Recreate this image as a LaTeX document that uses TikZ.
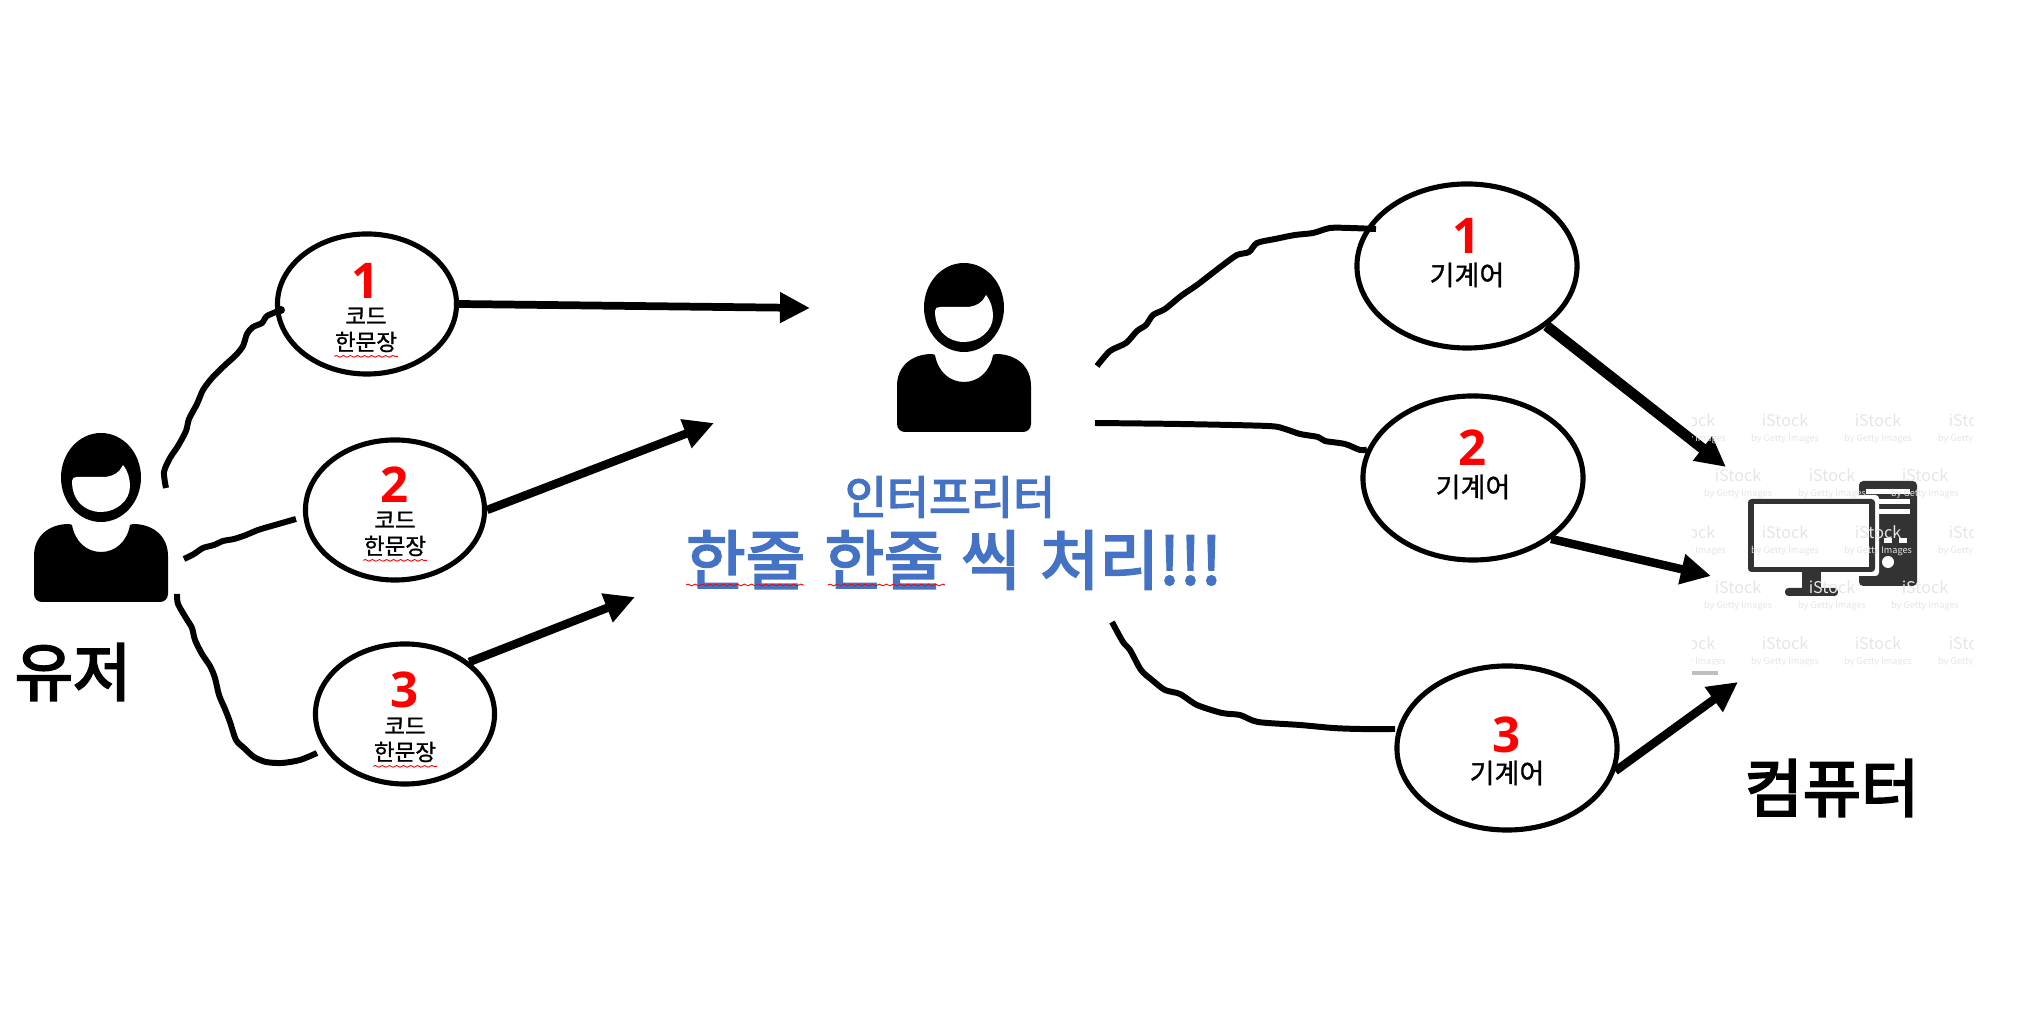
\documentclass[tikz,border=0pt]{standalone}
\usepackage{fontspec}
\setmainfont{Noto Sans CJK KR}
\newfontfamily\heavykr[FakeBold=3.2]{Noto Sans CJK KR}
\newfontfamily\midkr[FakeBold=1]{Noto Sans CJK KR}
\newfontfamily\digitfont{Open Sans}
\usetikzlibrary{arrows.meta,decorations.pathmorphing,shapes.geometric}

\definecolor{headblue}{HTML}{4472C4}
\definecolor{pcgray}{HTML}{333333}

\tikzset{
  bubble/.style={draw,ellipse,line width=1.45pt,minimum width=1.79cm,minimum height=1.4cm,inner sep=0pt},
  bigbubble/.style={bubble,minimum width=2.2cm,minimum height=1.64cm},
  numtext/.style={text=red,inner sep=0pt,font=\fontsize{14}{14}\selectfont\digitfont\bfseries},
  smalltext/.style={inner sep=0pt,font=\fontsize{6.4}{8}\selectfont\midkr},
  gearword/.style={inner sep=0pt,font=\fontsize{7.7}{9}\selectfont\midkr},
  bigword/.style={inner sep=0pt,font=\fontsize{18}{20}\selectfont\heavykr},
  blueword/.style={inner sep=0pt,text=headblue,font=\fontsize{13}{15}\selectfont\heavykr},
  blueline/.style={inner sep=0pt,text=headblue,font=\fontsize{18.4}{21}\selectfont\heavykr},
  squiggle/.style={red,line width=0.25pt,decorate,decoration={snake,amplitude=0.25pt,segment length=2pt}},
  shaky/.style={line width=1.7pt,smooth,tension=0.45},
  push/.style={line width=2.4pt,-{Triangle[length=0.3cm,width=0.29cm]}},
  stamp/.style={inner sep=0pt,align=center,text=black!10,font=\fontsize{4.6}{3.2}\selectfont},
  person/.pic={
    \fill (0,-124.5) ellipse [x radius=40,y radius=44.5];
    \fill[white] (-29,-121) .. controls (-29,-124) and (-27,-125) .. (-24,-125) -- (2,-125)
      .. controls (12,-125) and (19,-130) .. (22,-137) .. controls (27,-131) and (29,-123) .. (29,-116)
      .. controls (29,-101) and (15,-90) .. (0,-90) .. controls (-16,-90) and (-29,-101) .. (-29,-121) -- cycle;
    \fill (-67,-8) -- (-67,-46) .. controls (-67,-66) and (-52,-78) .. (-32,-78) -- (-29,-77)
      .. controls (-26,-60) and (-14,-50) .. (0,-50) .. controls (14,-50) and (26,-60) .. (29,-77)
      -- (32,-78) .. controls (52,-78) and (67,-66) .. (67,-46) -- (67,-8)
      .. controls (67,-3) and (63,0) .. (59,0) -- (-59,0) .. controls (-63,0) and (-67,-3) .. (-67,-8) -- cycle;
  }
}

\begin{document}
\begin{tikzpicture}[x=0.01cm,y=-0.01cm]
\useasboundingbox (0,0) rectangle (2029,1019);

% People
\pic at (101,602) {person};
\pic at (964,432) {person};

% Code bubbles
\node[bubble] (codeone) at (367,304) {};
\node[bubble] (codetwo) at (395,510) {};
\node[bubble] (codethree) at (405,714) {};

\node[numtext] (numone) at (366,281) {1};
\node[smalltext] (wordone) at (366,316) {코드};
\node[smalltext] (lineone) at (366,342) {한문장};
\node[numtext] (numtwo) at (395,485) {2};
\node[smalltext] (wordtwo) at (395,520) {코드};
\node[smalltext] (linetwo) at (395,546) {한문장};
\node[numtext] (numthree) at (405,690) {3};
\node[smalltext] (wordthree) at (405,726) {코드};
\node[smalltext] (linethree) at (405,752) {한문장};

% Machine bubbles
\node[bigbubble] (gearone) at (1467,266) {};
\node[bigbubble] (geartwo) at (1473,478) {};
\node[bigbubble] (gearthree) at (1507,748) {};

\node[numtext] (gnumone) at (1467,236) {1};
\node[gearword] (gwordone) at (1467,275) {기계어};
\node[numtext] (gnumtwo) at (1473,448) {2};
\node[gearword] (gwordtwo) at (1473,487) {기계어};
\node[numtext] (gnumthree) at (1507,735) {3};
\node[gearword] (gwordthree) at (1507,773) {기계어};

% Big labels
\node[bigword] (userword) at (73,672) {유저};
\node[bigword] (pcword) at (1832,788) {컴퓨터};
\node[blueword] (readerword) at (950,497) {인터프리터};
\node[blueline] (readerline) at (954,560) {한줄\hspace{5.5pt}한줄\hspace{5pt}씩\hspace{5.5pt}처리!!!};

% Spelling marks
\draw[squiggle] ([yshift=-1pt]lineone.south west) -- ([yshift=-1pt]lineone.south east);
\draw[squiggle] ([yshift=-1pt]linetwo.south west) -- ([yshift=-1pt]linetwo.south east);
\draw[squiggle] ([yshift=-1pt]linethree.south west) -- ([yshift=-1pt]linethree.south east);
\coordinate (markone) at (686,585);
\coordinate (marktwo) at (804,585);
\coordinate (markthree) at (828,585);
\coordinate (markfour) at (945,585);
\draw[squiggle] (markone) -- (marktwo);
\draw[squiggle] (markthree) -- (markfour);

% Free ends
\coordinate (usertop) at (166,488);
\coordinate (usermid) at (184,559);
\coordinate (userlow) at (177,594);
\coordinate (hookone) at (281,310);
\coordinate (hooktwo) at (296,519);
\coordinate (hookthree) at (317,753);
\coordinate (readin) at (810,308);
\coordinate (readintwo) at (714,423);
\coordinate (readinthree) at (635,597);
\coordinate (readtop) at (1097,366);
\coordinate (readmid) at (1095,423);
\coordinate (readlow) at (1112,622);
\coordinate (hookgear) at (1376,229);
\coordinate (hookgearlow) at (1395,729);
\coordinate (pcone) at (1726,467);
\coordinate (pctwo) at (1711,576);
\coordinate (pcthree) at (1738,682);

% Shaky lines
\draw[shaky] plot coordinates {(usertop) (164,472) (170,458) (178,446) (186,431) (189,419) (197,404) (203,390) (212,378) (224,366) (236,355) (243,346) (247,334) (253,327) (262,323) (267,316) (hookone)};
\fill (hookone) circle (4);
\draw[shaky] plot coordinates {(usermid) (194,554) (203,548) (214,545) (223,541) (234,539) (246,535) (258,530) (268,527) (hooktwo)};
\draw[shaky] plot coordinates {(userlow) (178,604) (186,618) (192,628) (195,640) (202,654) (210,666) (215,678) (219,695) (225,709) (230,722) (236,740) (244,748) (254,757) (266,762) (282,763) (300,760) (hookthree)};
\draw[shaky] plot coordinates {(readtop) (1110,351) (1126,343) (1137,331) (1146,325) (1153,315) (1165,309) (1181,296) (1197,285) (1210,275) (1223,265) (1237,255) (1249,252) (1257,243) (1275,239) (1295,235) (1313,233) (1330,228) (1350,228) (hookgear)};
\draw[shaky] plot coordinates {(readmid) (1180,424) (1268,426) (1285,429) (1300,434) (1318,437) (1325,441) (1345,444) (1360,450) (geartwo.165)};
\draw[shaky] plot coordinates {(readlow) (1123,642) (1130,650) (1141,670) (1152,680) (1165,690) (1180,694) (1197,705) (1222,713) (1240,715) (1258,722) (1300,725) (1333,728) (1360,729) (hookgearlow)};

% Arrows
\draw[push,line width=2.2pt] (codeone.east) -- (readin);
\draw[push] (codetwo.east) -- (readintwo);
\draw[push] (codethree.39) -- (readinthree);
\draw[push,line width=3pt] (gearone.-37) -- (pcone);
\draw[push] (geartwo.-38) -- (pctwo);
\draw[push] (gearthree.-12) -- (pcthree);

% Computer
\fill[pcgray,rounded corners=1.2pt] (1859,481) rectangle (1917,586);
\fill[white] (1866,489) rectangle (1910,494);
\fill[white] (1866,499) rectangle (1910,504);
\fill[white] (1866,509) rectangle (1910,514);
\fill[white] (1884,538) rectangle (1892,543);
\fill[white] (1899,538) rectangle (1907,543);
\fill[white] (1888,562) circle (6);
\fill[white,rounded corners=1pt] (1744,495) rectangle (1879,576);
\fill[pcgray,rounded corners=1pt] (1748,499) rectangle (1875,572);
\fill[white] (1754,504) rectangle (1869,567);
\fill[pcgray] (1802,572) rectangle (1821,590);
\fill[pcgray,rounded corners=1pt] (1785,588) rectangle (1838,596);

% Watermark
\begin{scope}
\clip (1692,410) rectangle (1973,665);
\foreach \y in {429,541,652}
  \foreach \x in {1692,1785,1878,1972}
    \node[stamp] at (\x,\y) {iStock\\[1pt]{\fontsize{2.6}{3}\selectfont by Getty Images}};
\foreach \y in {484,596}
  \foreach \x in {1738,1832,1925}
    \node[stamp] at (\x,\y) {iStock\\[1pt]{\fontsize{2.6}{3}\selectfont by Getty Images}};
\end{scope}
\fill[black!25] (1692,671) rectangle (1718,675);

\end{tikzpicture}
\end{document}
